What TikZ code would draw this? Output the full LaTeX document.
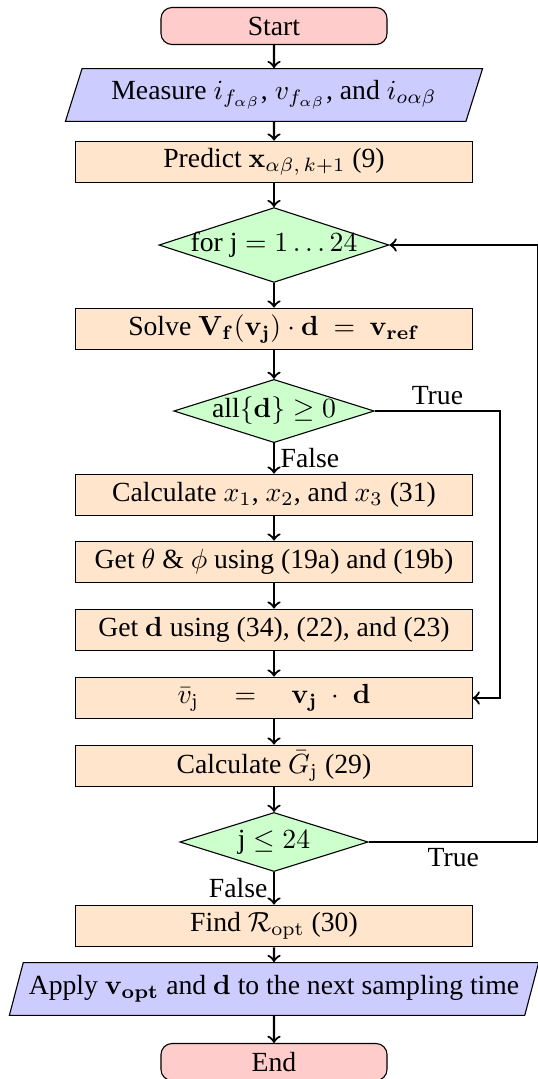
\documentclass[tikz,border=0pt]{standalone}
\usepackage{amsmath}
\usepackage{amssymb}
\usepackage[no-math]{fontspec}
\setmainfont{Liberation Serif}
\usetikzlibrary{shapes.geometric}
\tikzset{
  term/.style={draw, fill=red!20, rounded corners=4pt, minimum width=2.87cm,
               minimum height=0.47cm, inner sep=2pt},
  proc/.style={draw, fill=orange!20, minimum width=5.03cm,
               minimum height=0.53cm, inner sep=2pt},
  inout/.style={draw, fill=blue!20, trapezium, trapezium left angle=70,
                trapezium right angle=110, trapezium stretches=true,
                minimum height=0.67cm, inner sep=2pt},
  decide/.style={draw, fill=green!20, diamond, inner sep=0pt},
  flow/.style={->, thick},
  flab/.style={inner sep=2pt},
}

\begin{document}
\begin{tikzpicture}[x=0.0127cm, y=-0.0127cm]
\useasboundingbox (0,0) rectangle (538,1079);

\node[term] (start) at (274,26) {Start};
\node[inout, minimum width=5.30cm] (meas) at (274,95)
  {Measure $i_{f_{\alpha\beta}}$, $v_{f_{\alpha\beta}}$, and $i_{o\alpha\beta}$};
\node[proc] (pred) at (274,162) {Predict $\mathbf{x}_{\alpha\beta,\,k+1}$ (9)};
\node[decide, aspect=3.07, inner xsep=-3pt, minimum width=2.92cm,
      minimum height=0.95cm] (forj) at (274,245) {$\text{for j} = 1\ldots 24$};
\node[proc] (solve) at (274,329)
  {Solve $\mathbf{V_f}(\mathbf{v_j})\cdot\mathbf{d} \ = \ \mathbf{v_{ref}}$};
\node[decide, aspect=3.17, inner xsep=-2pt, minimum width=2.54cm,
      minimum height=0.80cm] (alld) at (274,411) {$\text{all}\{\mathbf{d}\} \geq 0$};
\node[proc] (calcx) at (274,495) {Calculate $x_1$, $x_2$, and $x_3$ (31)};
\node[proc] (angles) at (274,562) {Get $\theta$ \& $\phi$ using (19a) and (19b)};
\node[proc] (getd) at (274,630) {Get $\mathbf{d}$ using (34), (22), and (23)};
\node[proc] (vbar) at (274,698)
  {$\bar{v}_\mathrm{j} \quad = \quad \mathbf{v_j}\;\cdot\;\mathbf{d}$};
\node[proc] (calcg) at (274,766) {Calculate $\bar{G}_\mathrm{j}$ (29)};
\node[decide, aspect=3.19, minimum width=2.39cm, minimum height=0.75cm]
  (jle) at (274,842) {$\text{j} \leq 24$};
\node[proc] (find) at (274,926) {Find $\mathcal{R}_\mathrm{opt}$ (30)};
\node[inout, minimum width=6.62cm] (apply) at (274,989)
  {Apply $\mathbf{v_{opt}}$ and $\mathbf{d}$ to the next sampling time};
\node[term] (end) at (274,1062) {End};

\coordinate (trueR) at (500,411);
\coordinate (loopR) at (538,842);

\foreach \a/\b in {start/meas, meas/pred, pred/forj, forj/solve, solve/alld,
                   calcx/angles, angles/getd, getd/vbar, vbar/calcg,
                   calcg/jle, find/apply, apply/end}
  \draw[flow] (\a) -- (\b);

\draw[flow] (alld) -- node[flab, right] {False} (calcx);
\draw[flow] (jle) -- node[flab, left] {False} (find);
\draw[flow] (alld.east) -- node[flab, above] {True} (trueR) |- (vbar.east);
\draw[flow] (jle.east) -- node[flab, below] {True} (loopR) |- (forj.east);

\end{tikzpicture}
\end{document}
